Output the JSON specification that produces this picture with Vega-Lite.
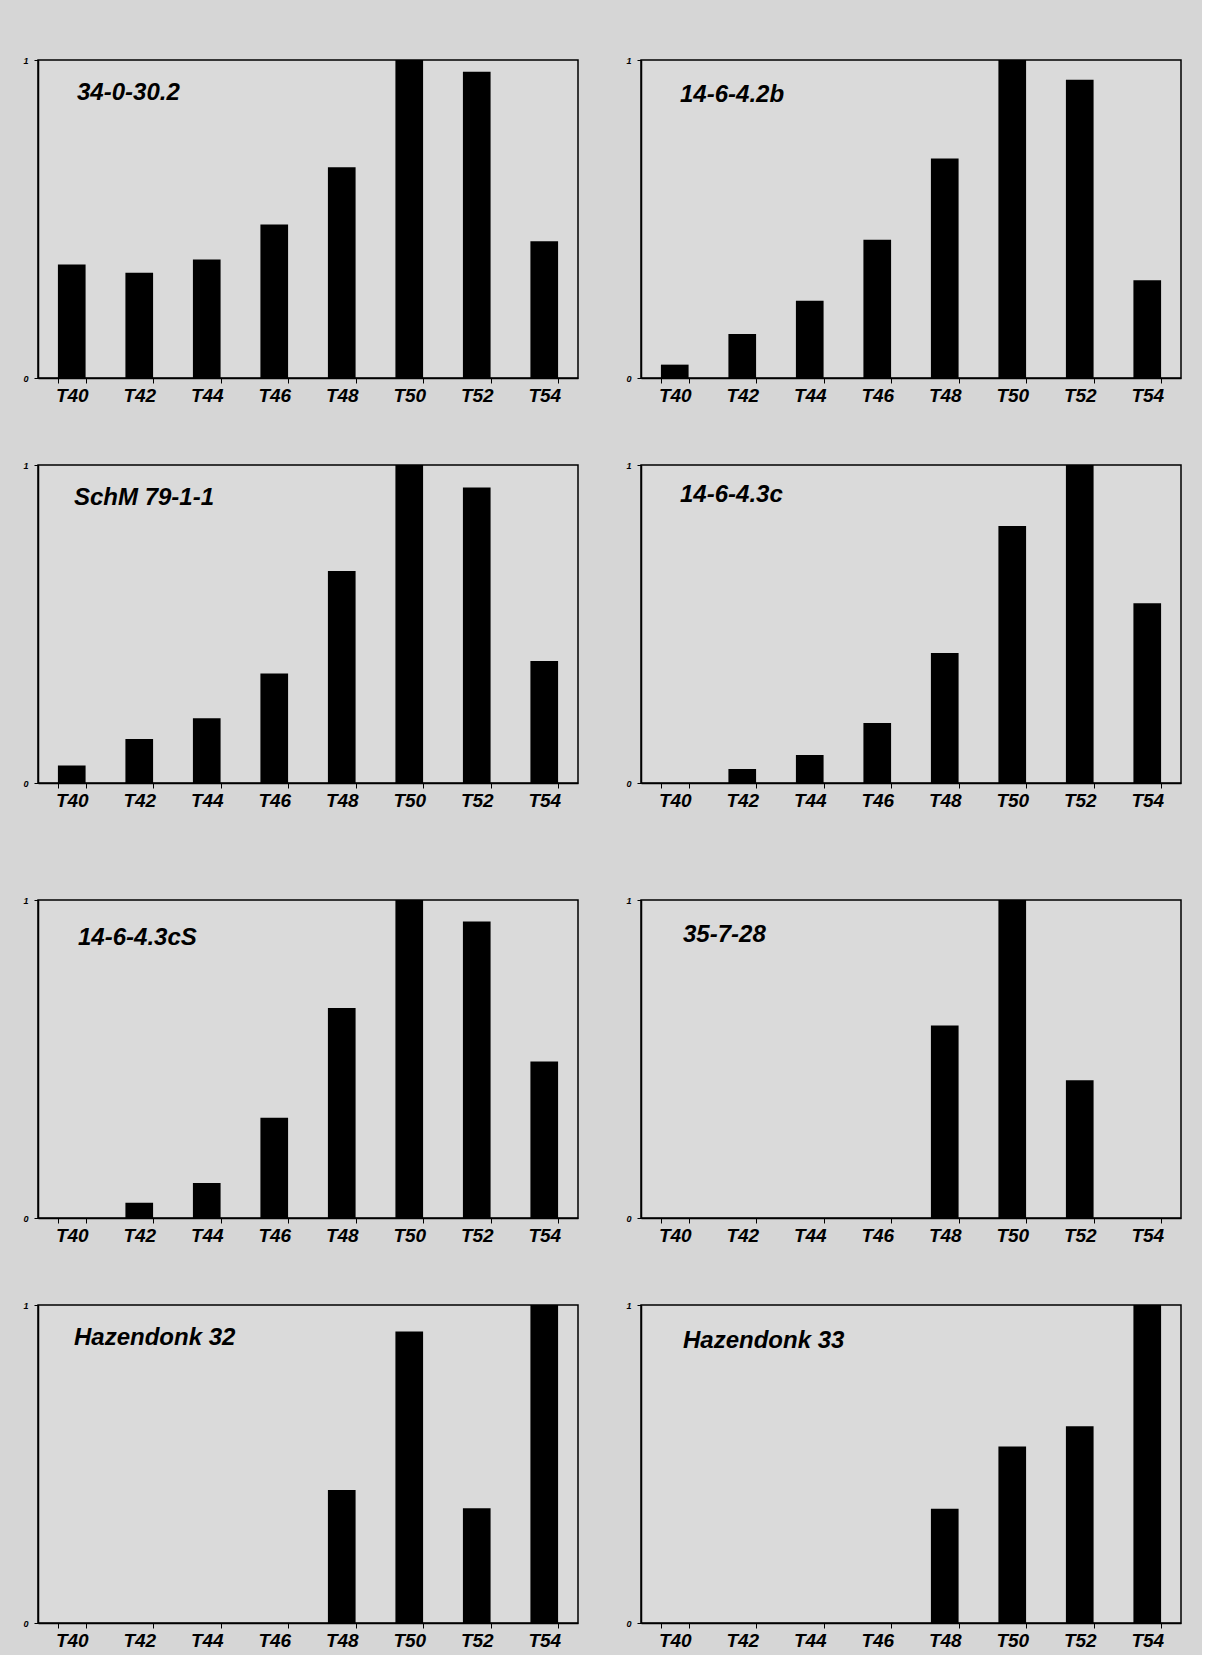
{
  "$schema": "https://vega.github.io/schema/vega-lite/v6.json",
  "background": "#d6d6d6",
  "padding": {"left": 22, "top": 55, "right": 20, "bottom": 5},
  "datasets": {
    "d": [
      {"panel": "34-0-30.2", "t": "T40", "v": 0.357},
      {"panel": "34-0-30.2", "t": "T42", "v": 0.331},
      {"panel": "34-0-30.2", "t": "T44", "v": 0.373},
      {"panel": "34-0-30.2", "t": "T46", "v": 0.483},
      {"panel": "34-0-30.2", "t": "T48", "v": 0.663},
      {"panel": "34-0-30.2", "t": "T50", "v": 1.0},
      {"panel": "34-0-30.2", "t": "T52", "v": 0.963},
      {"panel": "34-0-30.2", "t": "T54", "v": 0.43},
      {"panel": "14-6-4.2b", "t": "T40", "v": 0.042},
      {"panel": "14-6-4.2b", "t": "T42", "v": 0.138},
      {"panel": "14-6-4.2b", "t": "T44", "v": 0.243},
      {"panel": "14-6-4.2b", "t": "T46", "v": 0.435},
      {"panel": "14-6-4.2b", "t": "T48", "v": 0.69},
      {"panel": "14-6-4.2b", "t": "T50", "v": 1.0},
      {"panel": "14-6-4.2b", "t": "T52", "v": 0.938},
      {"panel": "14-6-4.2b", "t": "T54", "v": 0.307},
      {"panel": "SchM 79-1-1", "t": "T40", "v": 0.055},
      {"panel": "SchM 79-1-1", "t": "T42", "v": 0.138},
      {"panel": "SchM 79-1-1", "t": "T44", "v": 0.204},
      {"panel": "SchM 79-1-1", "t": "T46", "v": 0.344},
      {"panel": "SchM 79-1-1", "t": "T48", "v": 0.667},
      {"panel": "SchM 79-1-1", "t": "T50", "v": 1.0},
      {"panel": "SchM 79-1-1", "t": "T52", "v": 0.929},
      {"panel": "SchM 79-1-1", "t": "T54", "v": 0.384},
      {"panel": "14-6-4.3c", "t": "T40", "v": 0},
      {"panel": "14-6-4.3c", "t": "T42", "v": 0.044},
      {"panel": "14-6-4.3c", "t": "T44", "v": 0.088},
      {"panel": "14-6-4.3c", "t": "T46", "v": 0.189},
      {"panel": "14-6-4.3c", "t": "T48", "v": 0.409},
      {"panel": "14-6-4.3c", "t": "T50", "v": 0.808},
      {"panel": "14-6-4.3c", "t": "T52", "v": 1.0},
      {"panel": "14-6-4.3c", "t": "T54", "v": 0.565},
      {"panel": "14-6-4.3cS", "t": "T40", "v": 0},
      {"panel": "14-6-4.3cS", "t": "T42", "v": 0.048},
      {"panel": "14-6-4.3cS", "t": "T44", "v": 0.11},
      {"panel": "14-6-4.3cS", "t": "T46", "v": 0.315},
      {"panel": "14-6-4.3cS", "t": "T48", "v": 0.66},
      {"panel": "14-6-4.3cS", "t": "T50", "v": 1.0},
      {"panel": "14-6-4.3cS", "t": "T52", "v": 0.932},
      {"panel": "14-6-4.3cS", "t": "T54", "v": 0.492},
      {"panel": "35-7-28", "t": "T40", "v": 0},
      {"panel": "35-7-28", "t": "T42", "v": 0},
      {"panel": "35-7-28", "t": "T44", "v": 0},
      {"panel": "35-7-28", "t": "T46", "v": 0},
      {"panel": "35-7-28", "t": "T48", "v": 0.605},
      {"panel": "35-7-28", "t": "T50", "v": 1.0},
      {"panel": "35-7-28", "t": "T52", "v": 0.433},
      {"panel": "35-7-28", "t": "T54", "v": 0},
      {"panel": "Hazendonk 32", "t": "T40", "v": 0},
      {"panel": "Hazendonk 32", "t": "T42", "v": 0},
      {"panel": "Hazendonk 32", "t": "T44", "v": 0},
      {"panel": "Hazendonk 32", "t": "T46", "v": 0},
      {"panel": "Hazendonk 32", "t": "T48", "v": 0.418},
      {"panel": "Hazendonk 32", "t": "T50", "v": 0.917},
      {"panel": "Hazendonk 32", "t": "T52", "v": 0.361},
      {"panel": "Hazendonk 32", "t": "T54", "v": 1.0},
      {"panel": "Hazendonk 33", "t": "T40", "v": 0},
      {"panel": "Hazendonk 33", "t": "T42", "v": 0},
      {"panel": "Hazendonk 33", "t": "T44", "v": 0},
      {"panel": "Hazendonk 33", "t": "T46", "v": 0},
      {"panel": "Hazendonk 33", "t": "T48", "v": 0.359},
      {"panel": "Hazendonk 33", "t": "T50", "v": 0.555},
      {"panel": "Hazendonk 33", "t": "T52", "v": 0.619},
      {"panel": "Hazendonk 33", "t": "T54", "v": 1.0}
    ]
  },
  "data": {"name": "d"},
  "spacing": 84,
  "vconcat": [
    {
      "spacing": 54,
      "vconcat": [
        {
          "spacing": 46,
          "hconcat": [
            {
              "width": 540, "height": 318,
              "title": {"text": "34-0-30.2", "dx": 39, "offset": -49},
              "transform": [{"filter": "datum.panel === '34-0-30.2'"}],
              "mark": {"type": "bar", "color": "black"},
              "encoding": {
                "x": {"field": "t", "type": "nominal", "sort": ["T40","T42","T44","T46","T48","T50","T52","T54"], "scale": {"paddingInner": 0.59, "paddingOuter": 0.295}, "title": null},
                "y": {"field": "v", "type": "quantitative", "scale": {"domain": [0, 1], "nice": false}, "title": null, "axis": {"values": [0, 1], "format": "d"}}
              }
            },
            {
              "width": 540, "height": 318,
              "title": {"text": "14-6-4.2b", "dx": 39, "offset": -51},
              "transform": [{"filter": "datum.panel === '14-6-4.2b'"}],
              "mark": {"type": "bar", "color": "black"},
              "encoding": {
                "x": {"field": "t", "type": "nominal", "sort": ["T40","T42","T44","T46","T48","T50","T52","T54"], "scale": {"paddingInner": 0.59, "paddingOuter": 0.295}, "title": null},
                "y": {"field": "v", "type": "quantitative", "scale": {"domain": [0, 1], "nice": false}, "title": null, "axis": {"values": [0, 1], "format": "d"}}
              }
            }
          ]
        },
        {
          "spacing": 46,
          "hconcat": [
            {
              "width": 540, "height": 318,
              "title": {"text": "SchM 79-1-1", "dx": 36, "offset": -49},
              "transform": [{"filter": "datum.panel === 'SchM 79-1-1'"}],
              "mark": {"type": "bar", "color": "black"},
              "encoding": {
                "x": {"field": "t", "type": "nominal", "sort": ["T40","T42","T44","T46","T48","T50","T52","T54"], "scale": {"paddingInner": 0.59, "paddingOuter": 0.295}, "title": null},
                "y": {"field": "v", "type": "quantitative", "scale": {"domain": [0, 1], "nice": false}, "title": null, "axis": {"values": [0, 1], "format": "d"}}
              }
            },
            {
              "width": 540, "height": 318,
              "title": {"text": "14-6-4.3c", "dx": 39, "offset": -46},
              "transform": [{"filter": "datum.panel === '14-6-4.3c'"}],
              "mark": {"type": "bar", "color": "black"},
              "encoding": {
                "x": {"field": "t", "type": "nominal", "sort": ["T40","T42","T44","T46","T48","T50","T52","T54"], "scale": {"paddingInner": 0.59, "paddingOuter": 0.295}, "title": null},
                "y": {"field": "v", "type": "quantitative", "scale": {"domain": [0, 1], "nice": false}, "title": null, "axis": {"values": [0, 1], "format": "d"}}
              }
            }
          ]
        }
      ]
    },
    {
      "spacing": 54,
      "vconcat": [
        {
          "spacing": 46,
          "hconcat": [
            {
              "width": 540, "height": 318,
              "title": {"text": "14-6-4.3cS", "dx": 40, "offset": -54},
              "transform": [{"filter": "datum.panel === '14-6-4.3cS'"}],
              "mark": {"type": "bar", "color": "black"},
              "encoding": {
                "x": {"field": "t", "type": "nominal", "sort": ["T40","T42","T44","T46","T48","T50","T52","T54"], "scale": {"paddingInner": 0.59, "paddingOuter": 0.295}, "title": null},
                "y": {"field": "v", "type": "quantitative", "scale": {"domain": [0, 1], "nice": false}, "title": null, "axis": {"values": [0, 1], "format": "d"}}
              }
            },
            {
              "width": 540, "height": 318,
              "title": {"text": "35-7-28", "dx": 42, "offset": -51},
              "transform": [{"filter": "datum.panel === '35-7-28'"}],
              "mark": {"type": "bar", "color": "black"},
              "encoding": {
                "x": {"field": "t", "type": "nominal", "sort": ["T40","T42","T44","T46","T48","T50","T52","T54"], "scale": {"paddingInner": 0.59, "paddingOuter": 0.295}, "title": null},
                "y": {"field": "v", "type": "quantitative", "scale": {"domain": [0, 1], "nice": false}, "title": null, "axis": {"values": [0, 1], "format": "d"}}
              }
            }
          ]
        },
        {
          "spacing": 46,
          "hconcat": [
            {
              "width": 540, "height": 318,
              "title": {"text": "Hazendonk 32", "dx": 36, "offset": -49},
              "transform": [{"filter": "datum.panel === 'Hazendonk 32'"}],
              "mark": {"type": "bar", "color": "black"},
              "encoding": {
                "x": {"field": "t", "type": "nominal", "sort": ["T40","T42","T44","T46","T48","T50","T52","T54"], "scale": {"paddingInner": 0.59, "paddingOuter": 0.295}, "title": null},
                "y": {"field": "v", "type": "quantitative", "scale": {"domain": [0, 1], "nice": false}, "title": null, "axis": {"values": [0, 1], "format": "d"}}
              }
            },
            {
              "width": 540, "height": 318,
              "title": {"text": "Hazendonk 33", "dx": 42, "offset": -52},
              "transform": [{"filter": "datum.panel === 'Hazendonk 33'"}],
              "mark": {"type": "bar", "color": "black"},
              "encoding": {
                "x": {"field": "t", "type": "nominal", "sort": ["T40","T42","T44","T46","T48","T50","T52","T54"], "scale": {"paddingInner": 0.59, "paddingOuter": 0.295}, "title": null},
                "y": {"field": "v", "type": "quantitative", "scale": {"domain": [0, 1], "nice": false}, "title": null, "axis": {"values": [0, 1], "format": "d"}}
              }
            }
          ]
        }
      ]
    }
  ],
  "config": {
    "font": "Liberation Sans",
    "view": {"stroke": "black", "strokeWidth": 1.5, "fill": "#dadada"},
    "title": {"anchor": "start", "frame": "group", "font": "Liberation Sans", "fontSize": 24, "fontStyle": "italic", "fontWeight": "bold", "color": "black", "baseline": "alphabetic"},
    "axisX": {"labelFont": "Liberation Sans", "labelFontSize": 19, "labelFontStyle": "italic", "labelFontWeight": "bold", "labelColor": "black", "labelAngle": 0, "labelPadding": 3, "tickBand": "extent", "tickSize": 5, "tickColor": "black", "domainColor": "black", "domainWidth": 1.5, "tickWidth": 1, "grid": false},
    "axisY": {"labelFont": "Liberation Sans", "labelFontSize": 9, "labelFontStyle": "italic", "labelFontWeight": "bold", "labelColor": "black", "labelPadding": 6, "tickSize": 4, "tickColor": "black", "domainColor": "black", "domainWidth": 1.5, "grid": false}
  }
}
